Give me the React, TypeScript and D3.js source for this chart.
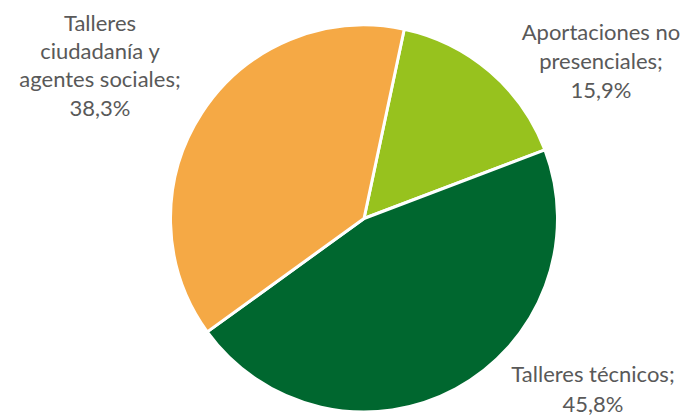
import React from "react";
import * as d3 from "d3";

const categories = ["Aportaciones no presenciales", "Talleres técnicos", "Talleres ciudadanía y agentes sociales"];
const values = [15.9, 45.8, 38.3];
const valueLabels = ["15,9%", "45,8%", "38,3%"];
const labelLines = [
  ["Aportaciones no", "presenciales;", "15,9%"],
  ["Talleres técnicos;", "45,8%"],
  ["Talleres", "ciudadanía y", "agentes sociales;", "38,3%"],
];
const colors = ["#97C21E", "#00672F", "#F5A945"];

const W = 687;
const H = 418;
const cx = 364;
const cy = 218.5;
const R = 193.5;
const labelAnchors = [
  { x: 601, y: 40, lh: 29 },
  { x: 593, y: 381.5, lh: 30 },
  { x: 100, y: 30.7, lh: 28.3 },
];

export default function App() {
  const pie = d3
    .pie<number>()
    .sort(null)
    .startAngle((12 * Math.PI) / 180)
    .endAngle((12 * Math.PI) / 180 + 2 * Math.PI);
  const arcs = pie(values);
  const arcGen = d3.arc<d3.PieArcDatum<number>>().innerRadius(0).outerRadius(R);
  return (
    <svg
      width={W}
      height={H}
      style={{ position: "absolute", left: 0, top: 0, background: "#fff" }}
      fontFamily="Lato, 'Open Sans', sans-serif"
    >
      <g transform={`translate(${cx},${cy})`}>
        {arcs.map((a, i) => (
          <path key={categories[i]} d={arcGen(a) || ""} fill={colors[i]} stroke="#fff" strokeWidth={3} strokeLinejoin="round" />
        ))}
      </g>
      {labelLines.map((lines, i) => (
        <text key={valueLabels[i]} textAnchor="middle" fontSize={22} fill="#595959">
          {lines.map((l, j) => (
            <tspan key={j} x={labelAnchors[i].x} y={labelAnchors[i].y + j * labelAnchors[i].lh}>
              {l}
            </tspan>
          ))}
        </text>
      ))}
    </svg>
  );
}
